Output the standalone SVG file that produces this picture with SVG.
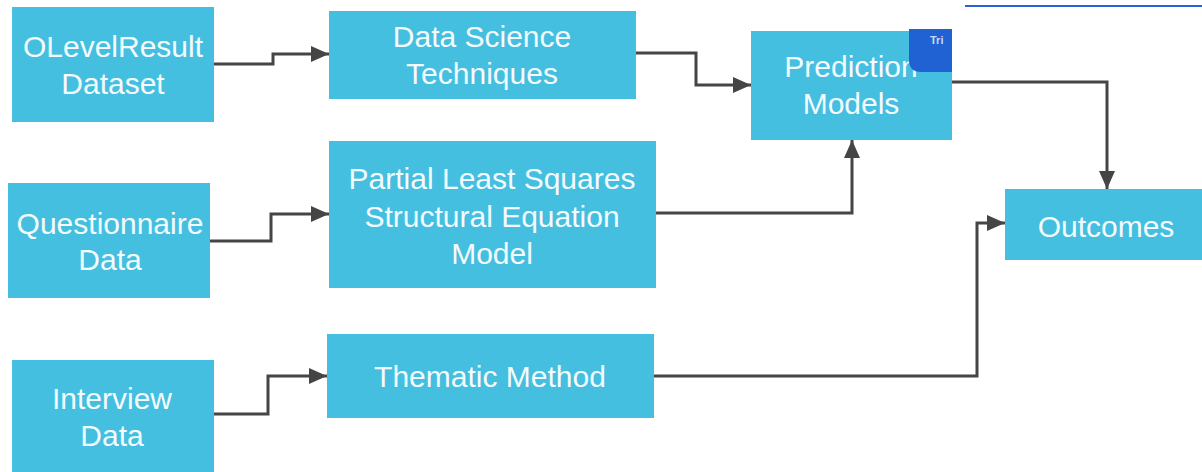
<svg xmlns="http://www.w3.org/2000/svg" width="1202" height="472" viewBox="0 0 1202 472">
  <style>
    .box { fill: #44bfe0; }
    .lbl { font-family: "Liberation Sans", Arial, sans-serif; font-size: 30px; fill: #f4fbfe; text-anchor: middle; }
    .conn { fill: none; stroke: #454545; stroke-width: 3; stroke-linejoin: miter; }
  </style>
  <defs>
    <marker id="arrow" viewBox="0 0 18 16" refX="18" refY="8" markerWidth="18" markerHeight="16" markerUnits="userSpaceOnUse" orient="auto">
      <path d="M0,0 L18,8 L0,16 Z" fill="#454545"/>
    </marker>
    <clipPath id="badgeClip">
      <path d="M909,29 H952 V72 H921 Q909,72 909,60 Z"/>
    </clipPath>
  </defs>

  <rect width="1202" height="472" fill="#ffffff"/>

  <!-- thin rule along the top edge -->
  <line x1="965" y1="6" x2="1202" y2="6" stroke="#2b5fd9" stroke-width="2"/>

  <g id="connectors">
    <path class="conn" d="M214,64 H273 V54 H329" marker-end="url(#arrow)"/>
    <path class="conn" d="M636,53 H696 V85 H751" marker-end="url(#arrow)"/>
    <path class="conn" d="M210,241 H271 V214 H329" marker-end="url(#arrow)"/>
    <path class="conn" d="M656,213 H852 V140" marker-end="url(#arrow)"/>
    <path class="conn" d="M214,414 H268 V376 H327" marker-end="url(#arrow)"/>
    <path class="conn" d="M654,376 H977 V223 H1005" marker-end="url(#arrow)"/>
    <path class="conn" d="M952,82 H1107 V189" marker-end="url(#arrow)"/>
  </g>

  <g id="olevel">
    <rect class="box" x="12" y="7" width="202" height="115"/>
    <text class="lbl" x="113" y="57">OLevelResult</text>
    <text class="lbl" x="113" y="94">Dataset</text>
  </g>

  <g id="datascience">
    <rect class="box" x="329" y="11" width="307" height="88"/>
    <text class="lbl" x="482" y="47">Data Science</text>
    <text class="lbl" x="482" y="84">Techniques</text>
  </g>

  <g id="prediction">
    <rect class="box" x="751" y="31" width="201" height="109"/>
    <text class="lbl" x="851" y="77">Prediction</text>
    <text class="lbl" x="851" y="114">Models</text>
    <path d="M909,29 H952 V72 H921 Q909,72 909,60 Z" fill="#2062d4"/>
    <text x="930" y="44" clip-path="url(#badgeClip)" font-family="Liberation Sans, Arial, sans-serif" font-size="11" font-weight="bold" fill="#c9d8f5">Tri</text>
  </g>

  <g id="questionnaire">
    <rect class="box" x="8" y="183" width="202" height="115"/>
    <text class="lbl" x="110" y="234">Questionnaire</text>
    <text class="lbl" x="110" y="270">Data</text>
  </g>

  <g id="plssem">
    <rect class="box" x="329" y="141" width="327" height="147"/>
    <text class="lbl" x="492" y="189">Partial Least Squares</text>
    <text class="lbl" x="492" y="227">Structural Equation</text>
    <text class="lbl" x="492" y="264">Model</text>
  </g>

  <g id="outcomes">
    <rect class="box" x="1005" y="189" width="197" height="71"/>
    <text class="lbl" x="1106" y="237">Outcomes</text>
  </g>

  <g id="interview">
    <rect class="box" x="12" y="360" width="202" height="112"/>
    <text class="lbl" x="112" y="409">Interview</text>
    <text class="lbl" x="112" y="446">Data</text>
  </g>

  <g id="thematic">
    <rect class="box" x="327" y="334" width="327" height="84"/>
    <text class="lbl" x="490" y="387">Thematic Method</text>
  </g>
</svg>
